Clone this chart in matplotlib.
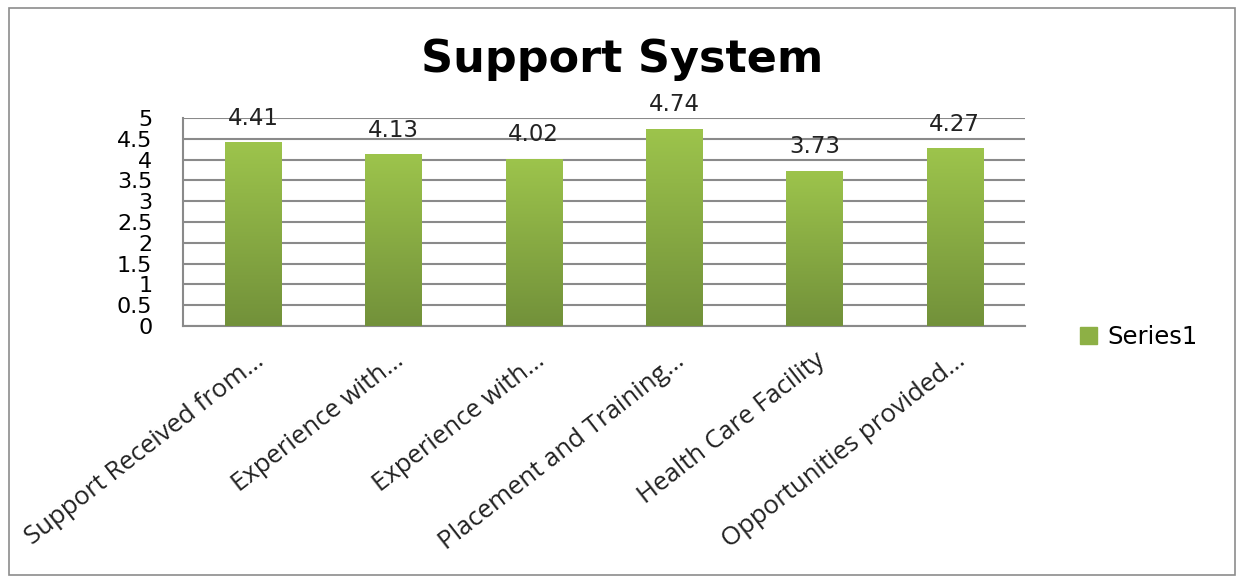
import numpy as np
import matplotlib.pyplot as plt
from matplotlib.colors import LinearSegmentedColormap
from matplotlib.patches import Rectangle

# dados do gráfico
categories = ['Support Received from\u2026', 'Experience with\u2026', 'Experience with\u2026',
              'Placement and Training\u2026', 'Health Care Facility', 'Opportunities provided\u2026']
values = [4.41, 4.13, 4.02, 4.74, 3.73, 4.27]
yticks = [0, 0.5, 1, 1.5, 2, 2.5, 3, 3.5, 4, 4.5, 5]

fig = plt.figure(figsize=(12.44, 5.81), dpi=100)
fig.patches.append(Rectangle((0.007, 0.01), 0.986, 0.976, transform=fig.transFigure,
                             fill=False, edgecolor='#8c8c8c', linewidth=1.2))

ax = fig.add_axes([0.147, 0.439, 0.677, 0.358])
x = np.arange(len(categories))
bars = ax.bar(x, values, width=0.4, color='#8db045', zorder=2)

# gradiente nas barras
cmap = LinearSegmentedColormap.from_list('g', ['#72913a', '#9dc44c'])
grad = np.linspace(0, 1, 256).reshape(-1, 1)
for b in bars:
    im = ax.imshow(grad, cmap=cmap, origin='lower', aspect='auto', zorder=3,
                   extent=[b.get_x(), b.get_x() + b.get_width(), 0, b.get_height()])
    im.set_clip_path(b)

for xi, v in zip(x, values):
    ax.annotate(f'{v:.2f}', (xi, v), xytext=(0, 9), textcoords='offset points',
                ha='center', va='bottom', fontsize=16.5, color='#222222', family='DejaVu Sans')

ax.set_xlim(-0.5, len(categories) - 0.5)
ax.set_ylim(0, 5)
ax.set_yticks(yticks)
ax.set_yticklabels([f'{t:g}' for t in yticks], fontsize=16, family='DejaVu Sans')
ax.tick_params(axis='y', length=0, pad=22)
ax.tick_params(axis='x', length=0, pad=16)
ax.set_xticks(x)
ax.set_xticklabels(categories, rotation=38, ha='right', rotation_mode='anchor',
                   fontsize=18.5, family='Open Sans', color='#222222')
ax.yaxis.grid(True, color='#8a8a8a', linewidth=1.5, zorder=0)
ax.set_axisbelow(True)
for s in ['top', 'right']:
    ax.spines[s].set_visible(False)
for s in ['left', 'bottom']:
    ax.spines[s].set_color('#8a8a8a')
    ax.spines[s].set_linewidth(1.5)

fig.text(0.5, 0.898, 'Support System', ha='center', va='center', fontsize=32,
         fontweight='bold', family='DejaVu Sans')

leg = fig.legend([bars[0]], ['Series1'], loc='center left', bbox_to_anchor=(0.868, 0.42),
                 frameon=False, fontsize=17.5, handlelength=0.7, handleheight=0.7,
                 handletextpad=0.45, borderpad=0, borderaxespad=0)
leg.legend_handles[0].set_color('#8db045')

fig.savefig('out.png', dpi=100)
